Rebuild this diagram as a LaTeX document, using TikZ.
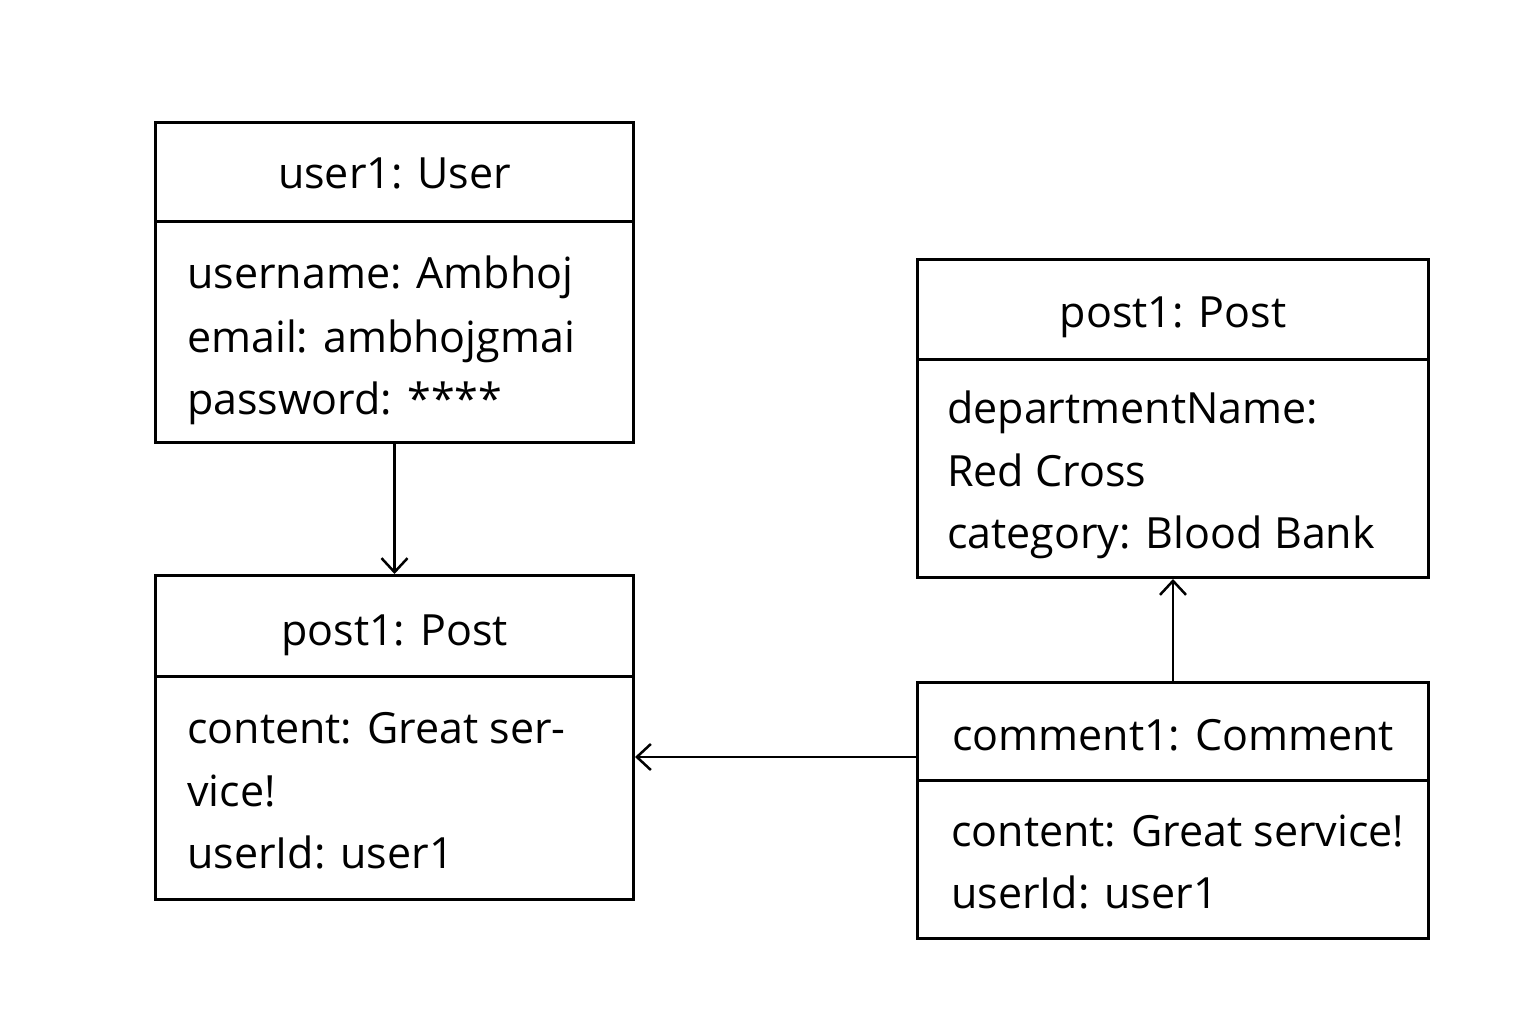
\documentclass[tikz,border=0pt]{standalone}
\usepackage{fontspec}
\setmainfont{Open Sans}
\usetikzlibrary{arrows.meta}

\begin{document}
\begin{tikzpicture}[
      x=1pt, y=-1pt,
      every node/.style={font=\fontsize{43}{50}\selectfont},
      objbox/.style={draw, line width=3pt, inner sep=0pt, anchor=north west},
      title/.style={anchor=base},
      attr/.style={anchor=base west, inner sep=0pt},
      link/.style={line width=2.5pt, -{Straight Barb[length=14pt,width=26pt,line width=2.5pt]}}
    ]
      \useasboundingbox (0,0) rectangle (1536,1024);

      % user1
      \node[objbox, minimum width=478pt, minimum height=320pt] (user) at (154,121) {};
      \draw[line width=3pt] (user.west |- 0,222) -- (user.east |- 0,222);
      \node[title] (usertitle) at (user.north |- 0,189) {user1: User};
      \node[attr] (username) at (187,289) {username: Ambhoj};
      \node[attr] (useremail) at (187,352) {email: ambhojgmai};
      \node[attr] (userpass) at (187,414) {password: ****};

      % post1 (left)
      \node[objbox, minimum width=478pt, minimum height=324pt] (postl) at (154,574) {};
      \draw[line width=3pt] (postl.west |- 0,676) -- (postl.east |- 0,676);
      \node[title] (postltitle) at (postl.north |- 0,645) {post1: Post};
      \node[attr] (postlcontent) at (187,743) {content: Great ser-};
      \node[attr] (postlcontent2) at (187,806) {vice!};
      \node[attr] (postluser) at (187,868) {userId: user1};

      % post1 (right)
      \node[objbox, minimum width=511pt, minimum height=318pt] (postr) at (916,258) {};
      \draw[line width=3pt] (postr.west |- 0,359) -- (postr.east |- 0,359);
      \node[title] (postrtitle) at (postr.north |- 0,327) {post1: Post};
      \node[attr] (postrdept) at (947,423) {departmentName:};
      \node[attr] (postrdept2) at (947,486) {Red Cross};
      \node[attr] (postrcat) at (947,548) {category: Blood Bank};

      % comment1
      \node[objbox, minimum width=511pt, minimum height=256pt] (comment) at (916,681) {};
      \draw[line width=3pt] (comment.west |- 0,780) -- (comment.east |- 0,780);
      \node[title] (commenttitle) at (comment.north |- 0,750) {comment1: Comment};
      \node[attr] (commentcontent) at (951,846) {content: Great service!};
      \node[attr] (commentuser) at (951,908) {userId: user1};

      % links
      \draw[link] (user.south) -- (postl.north);
      \draw[link] (comment.west |- 0,757) -- (postl.east |- 0,757);
      \draw[link] (comment.north) -- (postr.south);
    \end{tikzpicture}
\end{document}
